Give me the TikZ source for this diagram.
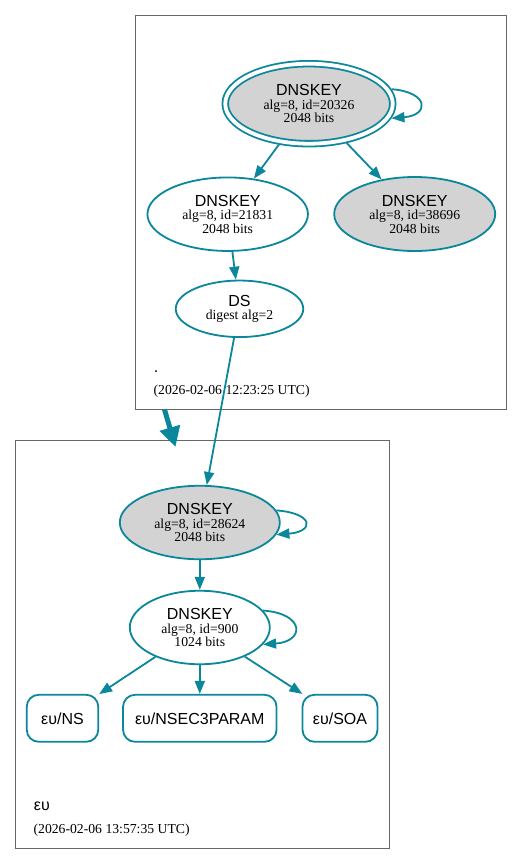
\documentclass[tikz,border=0pt]{standalone}
\usepackage{fontspec}
\setmainfont{Liberation Serif}
\setsansfont{Liberation Sans}
\usetikzlibrary{arrows.meta,shapes.geometric}
\definecolor{edgecol}{HTML}{0A879A}
\definecolor{keyfill}{HTML}{D3D3D3}
\definecolor{clustcol}{HTML}{666666}
\newcommand\serifsz{\fontsize{13.7}{13.5}\selectfont}
\newcommand\keytitle[1]{{\sffamily\fontsize{16}{13.5}\selectfont #1}}
\begin{document}
\begin{tikzpicture}[x=1pt,y=-1pt,
  every node/.style={inner sep=0pt, outer sep=0.9pt},
  cluster/.style={rectangle, draw=clustcol, line width=1pt, outer sep=0pt},
  key/.style={ellipse, draw=edgecol, line width=1.8pt, align=center, font=\serifsz},
  ksk/.style={key, fill=keyfill},
  rrset/.style={rectangle, rounded corners=12pt, draw=edgecol, line width=1.8pt, font=\sffamily\fontsize{16}{16}\selectfont, minimum height=47pt},
  link/.style={draw=edgecol, line width=1.8pt, -{Triangle[length=13pt,width=10pt]}},
  deleg/.style={draw=edgecol, line width=5pt, -{Triangle[length=20pt,width=20pt]}},
  zlabel/.style={anchor=base west, font=\sffamily\fontsize{16}{16}\selectfont},
  zdate/.style={anchor=base west, font=\serifsz}
]
\useasboundingbox (0,0) rectangle (523,865);

% clusters
\node[cluster, minimum width=371pt, minimum height=393.3pt] (zroot) at (321.2,212.4) {};
\node[cluster, minimum width=373.6pt, minimum height=407.6pt] (zeu) at (202.5,644.5) {};

% root zone
\node[ksk, double=white, double distance=3.8pt, outer sep=3.7pt,
      minimum width=167.5pt, minimum height=80pt] (k20326) at (309,103.7)
  {\keytitle{DNSKEY}\\alg=8, id=20326\\2048 bits};
\node[key, minimum width=160.5pt, minimum height=73.5pt] (k21831) at (227.7,214.2)
  {\keytitle{DNSKEY}\\alg=8, id=21831\\2048 bits};
\node[ksk, minimum width=161pt, minimum height=74pt] (k38696) at (414.7,214)
  {\keytitle{DNSKEY}\\alg=8, id=38696\\2048 bits};
\node[key, minimum width=127.5pt, minimum height=56.5pt] (ds) at (239.5,308.8)
  {\keytitle{DS}\\digest alg=2};
\node[zlabel] (rootname) at (153,372) {.};
\node[zdate] (rootdate) at (152.7,394) {(2026-02-06 12:23:25 UTC)};

% eu zone
\node[ksk, minimum width=160pt, minimum height=73.5pt] (k28624) at (199.8,522.5)
  {\keytitle{DNSKEY}\\alg=8, id=28624\\2048 bits};
\node[key, minimum width=140pt, minimum height=73.5pt] (k900) at (199.8,627.5)
  {\keytitle{DNSKEY}\\alg=8, id=900\\1024 bits};
\node[rrset, minimum width=71.5pt] (ns) at (62.5,718.3) {ευ/NS};
\node[rrset, minimum width=153.5pt] (nsec3) at (199.8,718.3) {ευ/NSEC3PARAM};
\node[rrset, minimum width=75pt] (soa) at (340,718.3) {ευ/SOA};
\node[zlabel] (euname) at (33,810.5) {ευ};
\node[zdate] (eudate) at (32.7,833.3) {(2026-02-06 13:57:35 UTC)};

% edges
\draw[link] (k20326) -- (k21831);
\draw[link] (k20326) -- (k38696);
\draw[link] (k21831) -- (ds);
\draw[link] (ds) -- (k28624);
\draw[link] (k28624) -- (k900);
\draw[link] (k900) -- (ns);
\draw[link] (k900) -- (nsec3);
\draw[link] (k900) -- (soa);

% self loops
\draw[link] (k20326.10) .. controls +(38,3) and +(38,-3) .. (k20326.-10);
\draw[link] (k28624.9) .. controls +(38,3) and +(38,-3) .. (k28624.-9);
\draw[link] (k900.15) .. controls +(42,3) and +(42,-3) .. (k900.-15);

% delegation
\coordinate (dfrom) at (164.5,409.5);
\coordinate (dto) at (175.5,447);
\draw[deleg] (dfrom) -- (dto);
\end{tikzpicture}
\end{document}
